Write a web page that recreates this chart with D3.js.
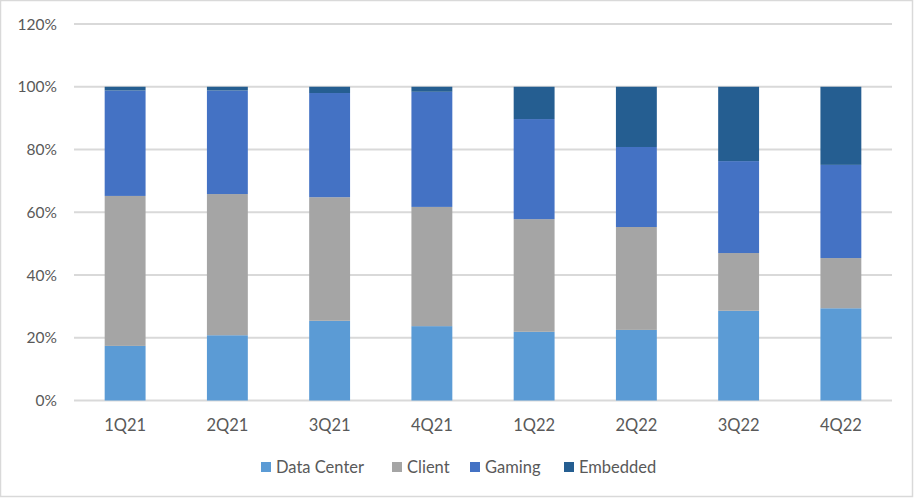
<!DOCTYPE html>
<html>
<head>
<meta charset="utf-8">
<script src="https://cdn.jsdelivr.net/npm/d3@7"></script>
<style>
  body { margin: 0; background: #fff; }
  svg text { font-family: Lato, "Liberation Sans", sans-serif; fill: #595959; }
</style>
</head>
<body>
<svg id="chart" width="914" height="498"></svg>
<script>
// quarters and segment shares (%)
var quarters = ['1Q21', '2Q21', '3Q21', '4Q21', '1Q22', '2Q22', '3Q22', '4Q22'];
var dataCenter = [17.4, 20.8, 25.4, 23.7, 21.9, 22.5, 28.6, 29.4];
var client     = [47.8, 45.0, 39.4, 38.0, 35.9, 32.8, 18.4, 16.0];
var gaming     = [33.6, 33.0, 33.2, 36.7, 31.9, 25.5, 29.3, 29.7];
var embedded   = [1.2, 1.2, 2.0, 1.6, 10.3, 19.2, 23.7, 24.9];
var seriesNames = ['Data Center', 'Client', 'Gaming', 'Embedded'];
var yTicks = [0, 20, 40, 60, 80, 100, 120];

var colors = ['#5B9BD5', '#A5A5A5', '#4472C4', '#255E91'];

var svg = d3.select('#chart');

// outer border like the excel chart area
svg.append('rect')
    .attr('x', 0.5).attr('y', 0.5)
    .attr('width', 912).attr('height', 496)
    .attr('fill', 'none')
    .attr('stroke', '#D9D9D9')
    .attr('stroke-width', 1.5);

var plotLeft = 74, plotRight = 892, plotTop = 24, plotBottom = 400.5;

var x = d3.scaleBand()
    .domain(quarters)
    .range([plotLeft, plotRight])
    .paddingInner(0.6)
    .paddingOuter(0.3);

var y = d3.scaleLinear()
    .domain([0, 120])
    .range([plotBottom, plotTop]);

// gridlines
svg.append('g')
    .selectAll('line')
    .data(yTicks)
    .enter()
    .append('line')
    .attr('x1', plotLeft)
    .attr('x2', plotRight)
    .attr('y1', function (d) { return y(d); })
    .attr('y2', function (d) { return y(d); })
    .attr('stroke', '#D9D9D9')
    .attr('stroke-width', 2);

// y tick labels
svg.append('g')
    .selectAll('text')
    .data(yTicks)
    .enter()
    .append('text')
    .attr('x', 57)
    .attr('y', function (d) { return y(d); })
    .attr('dy', '0.36em')
    .attr('text-anchor', 'end')
    .attr('font-size', 15.5)
    .text(function (d) { return d + '%'; });

// stacked bars
var rows = quarters.map(function (q, i) {
    return { q: q, 'Data Center': dataCenter[i], 'Client': client[i], 'Gaming': gaming[i], 'Embedded': embedded[i] };
});
var stack = d3.stack().keys(seriesNames)(rows);

svg.append('g')
    .selectAll('g')
    .data(stack)
    .enter()
    .append('g')
    .attr('fill', function (d, i) { return colors[i]; })
    .selectAll('rect')
    .data(function (d) { return d; })
    .enter()
    .append('rect')
    .attr('x', function (d) { return x(d.data.q); })
    .attr('width', x.bandwidth())
    .attr('y', function (d) { return y(d[1]); })
    .attr('height', function (d) { return y(d[0]) - y(d[1]); });

// x labels
svg.append('g')
    .selectAll('text')
    .data(quarters)
    .enter()
    .append('text')
    .attr('x', function (d) { return x(d) + x.bandwidth() / 2; })
    .attr('y', 425)
    .attr('dy', '0.36em')
    .attr('text-anchor', 'middle')
    .attr('font-size', 16.5)
    .text(function (d) { return d; });

// legend
var legendX = [261, 392, 470, 564];
var legend = svg.append('g')
    .selectAll('g')
    .data(seriesNames)
    .enter()
    .append('g')
    .attr('transform', function (d, i) { return 'translate(' + legendX[i] + ',467)'; });

legend.append('rect')
    .attr('x', 0).attr('y', -5)
    .attr('width', 10).attr('height', 10)
    .attr('fill', function (d, i) { return colors[i]; });

legend.append('text')
    .attr('x', 15)
    .attr('y', 0)
    .attr('dy', '0.36em')
    .attr('font-size', 16.5)
    .text(function (d) { return d; });
</script>
</body>
</html>
